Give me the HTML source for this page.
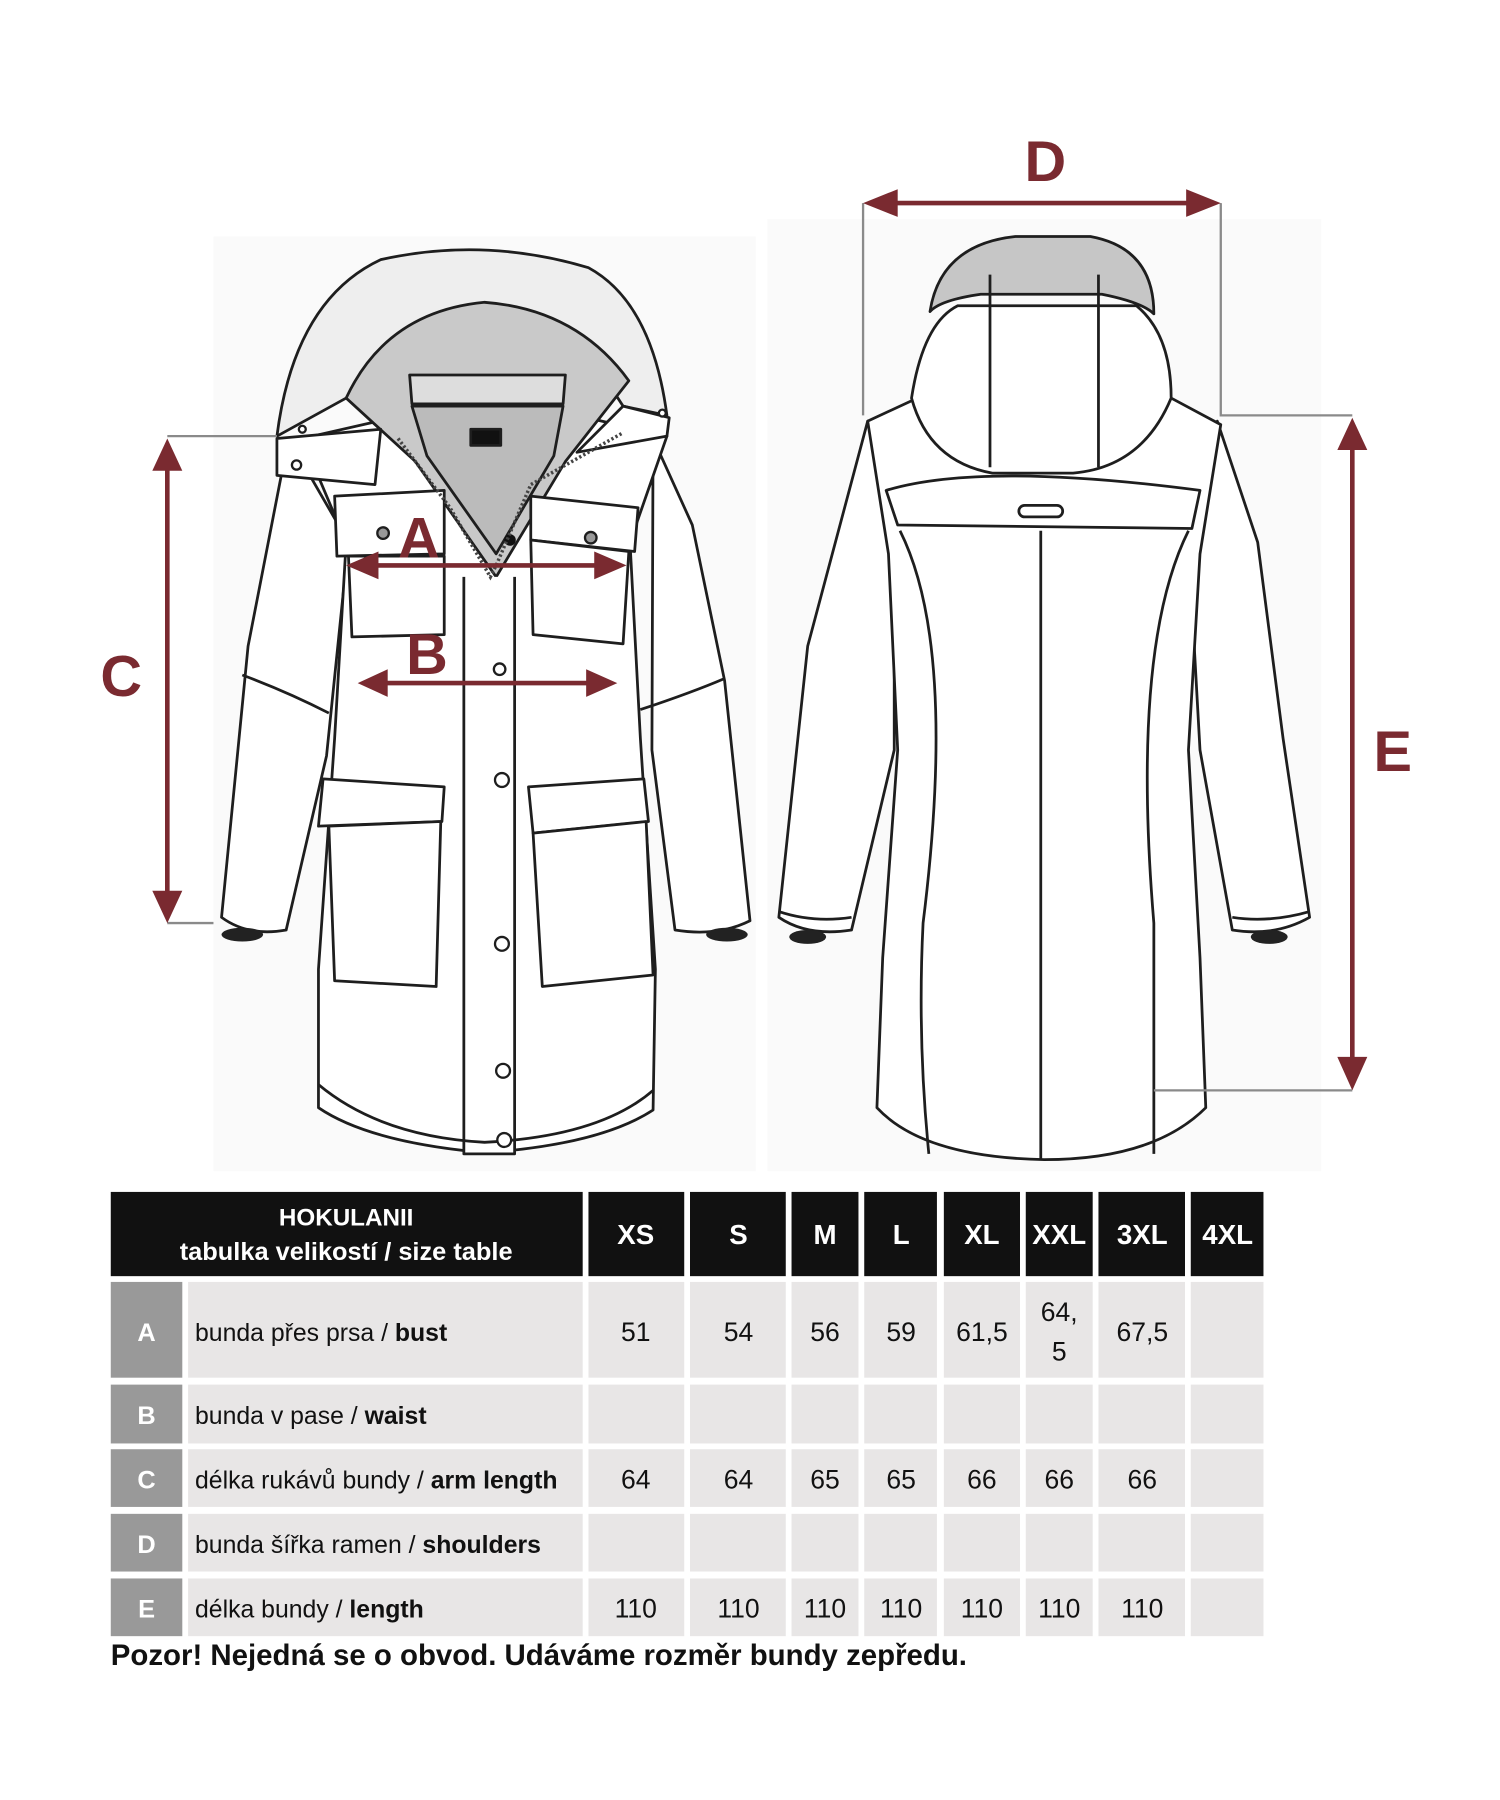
<!DOCTYPE html>
<html><head><meta charset="utf-8"><style>
html,body{margin:0;padding:0;background:#fff;}
svg{display:block}
text{font-family:"Liberation Sans","DejaVu Sans",sans-serif;}
</style></head><body>
<svg width="1500" height="1800" viewBox="0 0 1300 1560" xmlns="http://www.w3.org/2000/svg">
<rect width="1300" height="1560" fill="#fff"/>
<rect x="185" y="205" width="470" height="810" fill="#fafafa"/>
<rect x="665" y="190" width="480" height="825" fill="#fafafa"/>
<g fill="#fff" stroke="#1e1e1e" stroke-width="2.4" stroke-linejoin="round">
<path d="M250,380 L215,560 L192,795 Q215,812 248,806 L283,655 L302,470 Z"/>
<path d="M566,380 L600,455 L628,590 L650,798 Q622,812 585,806 L565,650 Z"/>
<path d="M262,380 L300,470 L290,640 L276,840 L276,960 Q320,990 420,999 Q520,992 566,962 L568,840 L555,640 L546,470 L578,378 L500,360 L350,360 Z"/>
<path d="M240,378 Q255,260 330,225 Q420,205 510,232 Q565,262 578,360 L540,352 L500,290 L350,290 L300,345 Z" fill="#eee"/>
<path d="M300,345 Q335,270 420,262 Q500,268 545,330 L490,400 L430,500 L360,400 Z" fill="#c9c9c9"/>
<path d="M355,325 L490,325 L488,350 L357,350 Z" fill="#ddd"/>
<path d="M357,352 L488,352 L480,395 L430,480 L370,395 Z" fill="#bbb"/>
<rect x="408" y="372" width="26" height="14" fill="#111"/>
<path d="M240,380 L330,372 L325,420 L240,412 Z"/>
<path d="M540,352 L580,362 L578,378 L500,392 Z"/>
<path d="M402,500 L402,1000 L446,1000 L446,500"/>
<path d="M290,430 L385,425 L385,480 L292,482 Z"/>
<path d="M460,430 L553,440 L550,478 L460,468 Z"/>
<path d="M302,482 L385,482 L385,550 L305,552 Z"/>
<path d="M460,468 L545,478 L540,558 L462,550 Z"/>
<path d="M280,675 L385,682 L383,712 L276,716 Z"/>
<path d="M458,682 L558,675 L562,712 L462,722 Z"/>
<path d="M285,716 L382,712 L378,855 L290,850 Z"/>
<path d="M462,722 L560,712 L566,845 L470,855 Z"/>
<path d="M276,940 Q330,985 420,990 Q520,985 566,945" fill="none"/>
<path d="M210,585 Q250,600 285,618" fill="none"/>
<path d="M555,615 Q600,600 628,588" fill="none"/>
</g>
<g fill="#fff" stroke="#1e1e1e" stroke-width="2">
<circle cx="433" cy="580" r="5"/><circle cx="435" cy="676" r="6"/><circle cx="435" cy="818" r="6"/><circle cx="436" cy="928" r="6"/><circle cx="437" cy="988" r="6"/>
<circle cx="332" cy="462" r="5" fill="#999"/><circle cx="512" cy="466" r="5" fill="#999"/>
<circle cx="257" cy="403" r="4"/><circle cx="262" cy="372" r="3"/><circle cx="574" cy="358" r="3"/>
</g>
<circle cx="442" cy="468" r="5" fill="#111"/>
<path d="M345,380 L390,440 L425,500 L430,490 L460,420 L540,375" fill="none" stroke="#444" stroke-width="3" stroke-dasharray="2 2"/>
<ellipse cx="210" cy="810" rx="18" ry="6" fill="#222"/><ellipse cx="630" cy="810" rx="18" ry="6" fill="#222"/>

<g fill="#fff" stroke="#1e1e1e" stroke-width="2.4" stroke-linejoin="round">
<path d="M752,365 L700,560 L675,795 Q700,812 738,806 L775,650 L775,470 Z"/>
<path d="M1055,365 L1090,470 L1112,640 L1135,795 Q1105,812 1068,806 L1040,650 L1030,470 Z"/>
<path d="M752,365 L795,345 L1015,345 L1058,368 L1040,480 L1030,650 L1040,830 L1045,960 Q1000,1005 905,1005 Q800,1003 760,960 L765,830 L778,650 L770,480 Z"/>
<path d="M768,425 Q850,400 1040,425 L1033,458 L778,455 Z"/>
<path d="M790,345 Q800,280 830,265 L985,265 Q1015,290 1015,345 Q990,405 930,410 L860,410 Q805,400 790,345 Z"/>
<path d="M806,270 Q815,212 880,205 L945,205 Q1000,215 1000,272 Q990,262 955,255 L850,255 Q815,260 806,270 Z" fill="#c6c6c6"/>
<path d="M858,238 L858,405 M952,238 L952,405 M902,460 L902,1005 M780,460 Q830,560 800,800 Q795,900 805,1000 M1030,460 Q980,560 1000,800 Q1000,900 1000,1000" fill="none"/>
<rect x="883" y="438" width="38" height="10" rx="5"/>
<path d="M675,790 Q705,800 738,795 M1068,795 Q1100,800 1135,790" fill="none"/>
</g>
<ellipse cx="700" cy="812" rx="16" ry="6" fill="#222"/><ellipse cx="1100" cy="812" rx="16" ry="6" fill="#222"/>

<g stroke="#8a8a8a" stroke-width="2" fill="none">
<path d="M145,378 L240,378 M145,800 L185,800"/>
<path d="M748,176 L748,360 M1058,176 L1058,360 L1172,360 M1000,945 L1172,945"/>
</g>
<g stroke="#7a2a30" stroke-width="4" fill="#7a2a30">
<line x1="145" y1="405" x2="145" y2="775"/>
<path d="M132,408 L145,380 L158,408 Z M132,772 L145,800 L158,772 Z" stroke="none"/>
<line x1="775" y1="176" x2="1030" y2="176"/>
<path d="M778,164 L748,176 L778,188 Z M1028,164 L1058,176 L1028,188 Z" stroke="none"/>
<line x1="1172" y1="388" x2="1172" y2="918"/>
<path d="M1159,390 L1172,362 L1185,390 Z M1159,916 L1172,945 L1185,916 Z" stroke="none"/>
<line x1="325" y1="490" x2="518" y2="490"/>
<path d="M328,478 L300,490 L328,502 Z M515,478 L543,490 L515,502 Z" stroke="none"/>
<line x1="333" y1="592" x2="512" y2="592"/>
<path d="M336,580 L310,592 L336,604 Z M508,580 L535,592 L508,604 Z" stroke="none"/>
</g>
<g fill="#7a2a30" font-weight="bold" font-size="50" text-anchor="middle">
<text x="363" y="483">A</text><text x="370" y="584">B</text><text x="105" y="603">C</text><text x="906" y="157">D</text><text x="1207" y="668">E</text>
</g>

<g transform="translate(0,-4)">
<rect x="96" y="1037" width="409" height="73" fill="#111"/>
<rect x="510" y="1037" width="83" height="73" fill="#111"/>
<rect x="598" y="1037" width="83" height="73" fill="#111"/>
<rect x="686" y="1037" width="58" height="73" fill="#111"/>
<rect x="749" y="1037" width="63" height="73" fill="#111"/>
<rect x="818" y="1037" width="66" height="73" fill="#111"/>
<rect x="889" y="1037" width="58" height="73" fill="#111"/>
<rect x="952" y="1037" width="75" height="73" fill="#111"/>
<rect x="1032" y="1037" width="63" height="73" fill="#111"/>
<g fill="#fff" font-weight="bold" text-anchor="middle">
<text x="300" y="1066" font-size="21">HOKULANII</text>
<text x="300" y="1096" font-size="22">tabulka velikostí / size table</text>
<g font-size="24"><text x="551" y="1082">XS</text><text x="640" y="1082">S</text><text x="715" y="1082">M</text><text x="781" y="1082">L</text><text x="851" y="1082">XL</text><text x="918" y="1082">XXL</text><text x="990" y="1082">3XL</text><text x="1064" y="1082">4XL</text></g>
</g>
<g>
<rect x="96" y="1115" width="62" height="83" fill="#999"/><rect x="163" y="1115" width="342" height="83" fill="#e8e6e6"/>
<rect x="96" y="1204" width="62" height="51" fill="#999"/><rect x="163" y="1204" width="342" height="51" fill="#e8e6e6"/>
<rect x="96" y="1260" width="62" height="50" fill="#999"/><rect x="163" y="1260" width="342" height="50" fill="#e8e6e6"/>
<rect x="96" y="1316" width="62" height="50" fill="#999"/><rect x="163" y="1316" width="342" height="50" fill="#e8e6e6"/>
<rect x="96" y="1372" width="62" height="50" fill="#999"/><rect x="163" y="1372" width="342" height="50" fill="#e8e6e6"/>
</g>
<g fill="#e8e6e6">
<rect x="510" y="1115" width="83" height="83"/><rect x="598" y="1115" width="83" height="83"/><rect x="686" y="1115" width="58" height="83"/><rect x="749" y="1115" width="63" height="83"/><rect x="818" y="1115" width="66" height="83"/><rect x="889" y="1115" width="58" height="83"/><rect x="952" y="1115" width="75" height="83"/><rect x="1032" y="1115" width="63" height="83"/>
<rect x="510" y="1204" width="83" height="51"/><rect x="598" y="1204" width="83" height="51"/><rect x="686" y="1204" width="58" height="51"/><rect x="749" y="1204" width="63" height="51"/><rect x="818" y="1204" width="66" height="51"/><rect x="889" y="1204" width="58" height="51"/><rect x="952" y="1204" width="75" height="51"/><rect x="1032" y="1204" width="63" height="51"/>
<rect x="510" y="1260" width="83" height="50"/><rect x="598" y="1260" width="83" height="50"/><rect x="686" y="1260" width="58" height="50"/><rect x="749" y="1260" width="63" height="50"/><rect x="818" y="1260" width="66" height="50"/><rect x="889" y="1260" width="58" height="50"/><rect x="952" y="1260" width="75" height="50"/><rect x="1032" y="1260" width="63" height="50"/>
<rect x="510" y="1316" width="83" height="50"/><rect x="598" y="1316" width="83" height="50"/><rect x="686" y="1316" width="58" height="50"/><rect x="749" y="1316" width="63" height="50"/><rect x="818" y="1316" width="66" height="50"/><rect x="889" y="1316" width="58" height="50"/><rect x="952" y="1316" width="75" height="50"/><rect x="1032" y="1316" width="63" height="50"/>
<rect x="510" y="1372" width="83" height="50"/><rect x="598" y="1372" width="83" height="50"/><rect x="686" y="1372" width="58" height="50"/><rect x="749" y="1372" width="63" height="50"/><rect x="818" y="1372" width="66" height="50"/><rect x="889" y="1372" width="58" height="50"/><rect x="952" y="1372" width="75" height="50"/><rect x="1032" y="1372" width="63" height="50"/>
</g>
<g fill="#fff" font-weight="bold" font-size="22" text-anchor="middle">
<text x="127" y="1166">A</text><text x="127" y="1238">B</text><text x="127" y="1294">C</text><text x="127" y="1350">D</text><text x="127" y="1406">E</text>
</g>
<g fill="#111" font-size="21.5">
<text x="169" y="1166">bunda přes prsa / <tspan font-weight="bold">bust</tspan></text>
<text x="169" y="1238">bunda v pase / <tspan font-weight="bold">waist</tspan></text>
<text x="169" y="1294">délka rukávů bundy / <tspan font-weight="bold">arm length</tspan></text>
<text x="169" y="1350">bunda šířka ramen / <tspan font-weight="bold">shoulders</tspan></text>
<text x="169" y="1406">délka bundy / <tspan font-weight="bold">length</tspan></text>
</g>
<g fill="#111" font-size="23" text-anchor="middle">
<text x="551" y="1166">51</text><text x="640" y="1166">54</text><text x="715" y="1166">56</text><text x="781" y="1166">59</text><text x="851" y="1166">61,5</text><text x="918" y="1149">64,</text><text x="918" y="1183">5</text><text x="990" y="1166">67,5</text>
<text x="551" y="1294">64</text><text x="640" y="1294">64</text><text x="715" y="1294">65</text><text x="781" y="1294">65</text><text x="851" y="1294">66</text><text x="918" y="1294">66</text><text x="990" y="1294">66</text>
<text x="551" y="1406">110</text><text x="640" y="1406">110</text><text x="715" y="1406">110</text><text x="781" y="1406">110</text><text x="851" y="1406">110</text><text x="918" y="1406">110</text><text x="990" y="1406">110</text>
</g>
<text x="96" y="1447" font-size="25.5" font-weight="bold" fill="#111">Pozor! Nejedná se o obvod. Udáváme rozměr bundy zepředu.</text>
</g>
</svg>
</body></html>
